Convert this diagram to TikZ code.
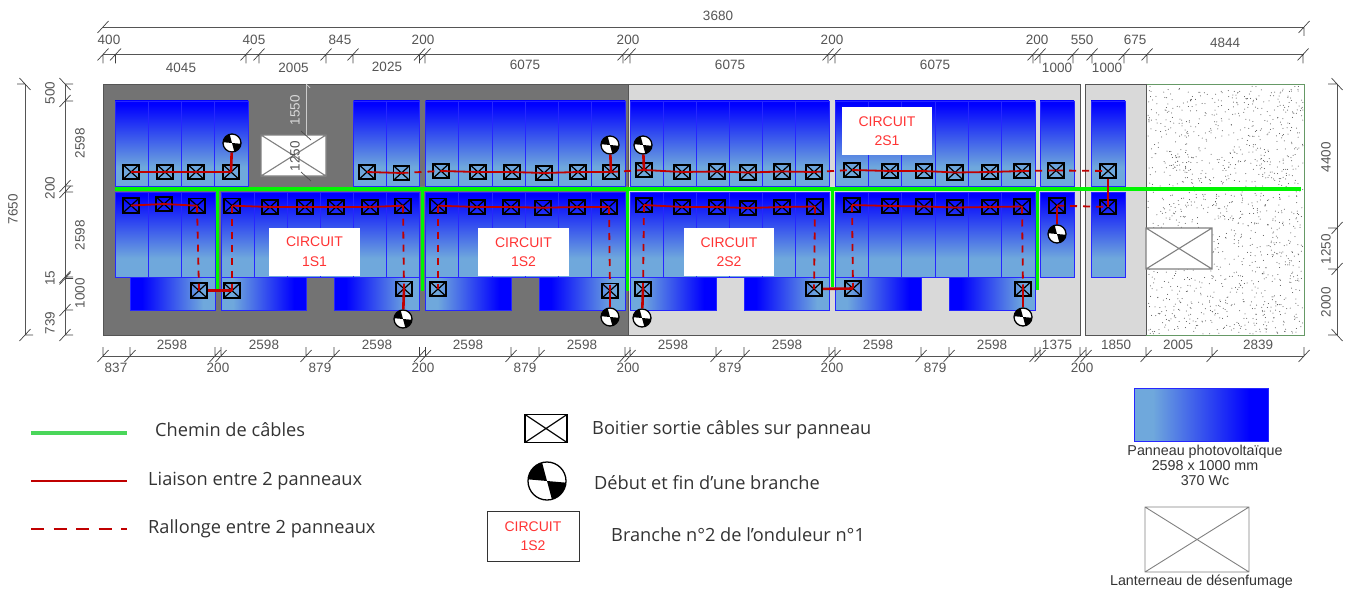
\documentclass[tikz,border=0pt]{standalone}
\usepackage{fontspec}
\setmainfont{Liberation Sans}
\newfontfamily\legende{Open Sans}
\definecolor{bleupv}{RGB}{0,0,255}
\definecolor{bleuclair}{RGB}{111,168,220}
\definecolor{rouge}{RGB}{192,0,0}
\definecolor{rougetxt}{RGB}{255,51,51}
\definecolor{vert}{RGB}{0,245,0}
\definecolor{vertleg}{RGB}{74,214,90}
\definecolor{gristrait}{RGB}{85,85,85}
\pgfdeclareverticalshading{pvV}{100bp}{color(0bp)=(bleuclair); color(36bp)=(bleuclair); color(73bp)=(bleupv); color(100bp)=(bleupv)}
\pgfdeclarehorizontalshading{pvG}{100bp}{color(0bp)=(bleupv); color(32bp)=(bleupv); color(68bp)=(bleuclair); color(100bp)=(bleuclair)}
\pgfdeclarehorizontalshading{pvD}{100bp}{color(0bp)=(bleuclair); color(32bp)=(bleuclair); color(68bp)=(bleupv); color(100bp)=(bleupv)}
\tikzset{
  panneau/.style={draw=blue!85!white, line width=0.7pt},
  panneauV/.style={panneau, shading=pvV},
  panneauG/.style={panneau, shading=pvG},
  panneauD/.style={panneau, shading=pvD},
  boitier/.style={draw=black, line width=1.8pt, minimum width=16pt, minimum height=14.5pt,
    inner sep=0pt, path picture={
      \draw[line width=1.2pt] (path picture bounding box.north west) -- (path picture bounding box.south east)
        (path picture bounding box.north east) -- (path picture bounding box.south west);}},
  debut/.style={circle, draw=black, line width=1.3pt, fill=white, minimum size=#1, inner sep=0pt,
    path picture={
      \fill[black, shift={(path picture bounding box.center)}] (0,0) -- (-105:30) -- (-140:50) -- (-175:30) -- cycle
        (0,0) -- (75:30) -- (40:50) -- (5:30) -- cycle;}},
  debut/.default=18pt,
  chemin/.style={vert, line width=3.2pt},
  liaison/.style={rouge, line width=1.8pt},
  liaisonF/.style={rouge, line width=2.6pt},
  rallonge/.style={rouge, line width=1.8pt, dash pattern=on 7pt off 6pt},
  circuit/.style={fill=white, text=rougetxt, align=center, minimum width=#1, minimum height=48pt,
    inner sep=0pt, font=\fontsize{14}{19.5}\selectfont},
  circuit/.default=91pt,
  cote/.style={gristrait, line width=0.7pt},
  cotetxt/.style={text=gristrait, inner sep=0pt, font=\fontsize{13.5}{15}\selectfont},
  lanterneau/.style={draw=gray, fill=white, line width=1.1pt},
  leg/.style={anchor=west, inner sep=0pt, text=black!80, font=\legende\fontsize{18.2}{20}\selectfont},
  legpetit/.style={inner sep=0pt, text=black!80, align=center, font=\fontsize{14.3}{15}\selectfont},
  pics/coteH/.style={code={\draw[cote, black!75] (-5.5,6) -- (5.5,-6) (0,0) -- (0,#1);}},
  pics/coteV/.style={code={\draw[cote, black!75] (-5.5,6) -- (5.5,-6) (0,0) -- (#1,0);}},
  pics/coteW/.style={code={\draw[cote, black!75] (-5.5,-6) -- (5.5,6) (0,0) -- (#1,0);}},
}
% rangee de panneaux : xa/xb/nombre, puis haut et bas
\newcommand{\rangee}[3]{
  \foreach \xa/\xb/\nb in {#1} {
    \draw[panneauV] (\xa,#2) rectangle (\xb,#3);
    \foreach \i in {1,...,\nb} {
      \pgfmathsetmacro{\xd}{\xa+\i*(\xb-\xa)/\nb}
      \draw[panneau] (\xd,#2) -- (\xd,#3);
    }
  }
}
\begin{document}
\begin{tikzpicture}[x=1pt, y=-1pt]
  \useasboundingbox (0,0) rectangle (1351,591);

  % toiture
  \fill[black!55] (103,84) rectangle (628,335);
  \draw[gristrait, fill=black!15, line width=0.8pt] (628,84) rectangle (1080,335);
  \draw[gristrait, fill=black!15, line width=0.8pt] (1085.5,84) rectangle (1146,335);
  \draw[gristrait, line width=0.8pt] (103,84) rectangle (628,335);
  \pgfmathsetseed{17}
  \foreach \i in {1,...,1300} {
    \pgfmathsetmacro{\xp}{1148+rnd*155}
    \pgfmathsetmacro{\yp}{86+rnd*248}
    \fill[black!70] (\xp,\yp) circle (0.5);
  }
  \draw[green!20!gray, line width=0.7pt] (1146,84) rectangle (1304,335);
  \draw[gristrait, line width=1pt] (1146,84) -- (1146,335);

  % panneaux
  \rangee{115/248/4, 353.5/419.5/2, 425.5/625/6, 630/829/6, 835/1035/6, 1040/1074/1, 1091/1125/1}{101}{186}
  \rangee{115/215/3, 221/419.5/6, 425.5/625/6, 630/829/6, 835/1035/6, 1040/1074/1, 1091/1125/1}{192}{277}
  \foreach \xa/\xb in {130/215, 334/419.5, 539/625, 744/829, 949/1035}
    \draw[panneauG] (\xa,277.5) rectangle (\xb,310.5);
  \foreach \xa/\xb in {221/306, 425.5/511.5, 630/716, 835/921}
    \draw[panneauD] (\xa,277.5) rectangle (\xb,310.5);

  % lanterneaux
  \draw[lanterneau] (261,135) rectangle (326,176) (261,135) -- (326,176) (326,135) -- (261,176);
  \draw[lanterneau] (1146,228) rectangle (1212,269) (1146,228) -- (1212,269) (1212,228) -- (1146,269);
  \draw[black!20, line width=0.7pt] (306,84) -- (306,135);
  \draw[black!20, line width=0.7pt] (306,84) -- ++(4,4);
  \draw[black!70, line width=0.7pt] (301,131) -- (311,140) (301,172) -- (311,181);
  \node[cotetxt, text=black!15, rotate=90] (cote1550) at (295,110) {1550};
  \node[cotetxt, rotate=90] (cote1250) at (295,156) {1250};

  % cotes horizontales
  \draw[cote] (103,27) -- (1304,27);
  \draw[cote] (103,54.5) -- (1304,54.5);
  \draw[cote] (103,356) -- (1304,356);
  \path (103,27) pic {coteH=0} (1304,27) pic {coteH=9};
  \foreach \x in {103,115.5,246,259,326,353,419.5,425,623,630,828,835,1033,1040,1073,1092,1124,1147,1303}
    \path (\x,54.5) pic {coteH=9};
  \foreach \x in {103,130,215,221,306,334,419.5,425.5,511,539,625,630,716,744,829,835,921,949,1035,1040,1080,1086,1146,1212,1304}
    \path (\x,356) pic {coteH=-9};
  \foreach \x/\y/\t [count=\n] in {718/16/3680, 109/40/400, 254/40/405, 340/40/845, 423/40/200, 628/40/200,
    832/40/200, 1037/40/200, 1082/40/550, 1135/40/675, 1225/43/4844, 181/68/4045, 293.5/67.5/2005,
    387/67/2025, 525/65/6075, 730/65/6075, 935/65/6075, 1057/67.5/1000, 1107/68/1000}
    \node[cotetxt] (haut\n) at (\x,\y) {\t};
  \foreach \x/\t [count=\n] in {172/2598, 264/2598, 377/2598, 468/2598, 582/2598, 673/2598, 787/2598, 878/2598,
    992/2598, 1057/1375, 1116/1850, 1178/2005, 1258/2839}
    \node[cotetxt] (bas\n) at (\x,345) {\t};
  \foreach \x/\t [count=\n] in {116/837, 218/200, 320/879, 423/200, 525/879, 628/200, 730/879, 832/200, 935/879, 1082/200}
    \node[cotetxt] (sous\n) at (\x,368) {\t};

  % cotes verticales
  \draw[cote] (25,84) -- (25,335);
  \draw[cote] (65,84) -- (65,335);
  \draw[cote] (1337,84) -- (1337,335);
  \path (25,84) pic {coteW=-8} (25,335) pic {coteV=8};
  \path (65,84) pic {coteW=8};
  \foreach \y in {101,186,192,277,278.5,310,335}
    \path (65,\y) pic {coteV=8};
  \path (1337,84) pic {coteW=-9} (1337,228) pic {coteV=-9} (1337,269) pic {coteV=-9} (1337,335) pic {coteW=-9};
  \foreach \x/\y/\t [count=\n] in {13/209/7650, 50/93/500, 80/143/2598, 50/188/200, 80/235/2598, 50/278/15,
    80/293/1000, 50/323/739, 1326/157/4400, 1326/249/1250, 1326/302/2000}
    \node[cotetxt, rotate=90] (cotev\n) at (\x,\y) {\t};

  % etiquettes des circuits
  \node[circuit] (c1S1) at (314.5,251.5) {CIRCUIT\\1S1};
  \node[circuit] (c1S2) at (523.5,252) {CIRCUIT\\1S2};
  \node[circuit, minimum width=90pt] (c2S2) at (729,252) {CIRCUIT\\2S2};
  \node[circuit, minimum width=90pt] (c2S1) at (887,131) {CIRCUIT\\2S1};

  % chemin de cables
  \coordinate (cheminA) at (115,189);
  \coordinate (cheminB) at (1301,189);
  \foreach \x/\y [count=\n] in {217.5/291, 422.7/291, 627.7/291, 832.7/287, 1037.3/290} {
    \coordinate (cheminh\n) at (\x,189);
    \coordinate (cheminb\n) at (\x,\y);
    \draw[chemin] (cheminh\n) -- (cheminb\n);
  }
  \draw[chemin] (cheminA) -- (cheminB);

  % boitiers
  \foreach \x/\y [count=\n] in {131/172, 165/172, 196/172, 231/172, 367/172, 401.5/173, 441/171, 478/172, 512/172,
    544/173, 578/172, 611/172, 644/170, 682/172, 717/171.5, 748/172.5, 782/171.5, 814/172, 852/170, 890/171,
    924/171, 955/172.5, 990/172, 1022/171, 1056/170.5, 1108/171}
    \node[boitier] (ha\n) at (\x,\y) {};
  \foreach \x/\y [count=\n] in {131/205.5, 164/204, 197/205.7, 232/205.7, 270/207, 305/207, 336/207, 370/207, 403/205.7,
    438/205.7, 477/207, 511/207, 543/207.7, 577/207, 609/207, 644/205, 682/207, 717/207, 748/208, 782/207, 815/206.5,
    852/205, 890/206, 924/206.5, 955/207.5, 990/207, 1022/206.5, 1057/205.6, 1108/207}
    \node[boitier] (mi\n) at (\x,\y) {};
  \foreach \x/\y [count=\n] in {199/290.6, 232/290.6, 404/288.7, 438/289, 610/290.7, 643/289, 814/289, 853/288.5, 1023/289}
    \node[boitier] (ba\n) at (\x,\y) {};

  % debuts de branche
  \foreach \x/\y [count=\n] in {232/143, 610/145, 643/145, 403/319, 610/317, 642/318, 1023/317, 1057/234}
    \node[debut] (db\n) at (\x,\y) {};

  % liaisons
  \draw[liaison] (ha1.center) -- (ha2.center) -- (ha3.center) -- (ha4.center);
  \draw[liaison] (ha5.center) -- (ha6.center);
  \draw[liaison] (ha7.center) -- (ha8.center) -- (ha9.center) -- (ha10.center) -- (ha11.center) -- (ha12.center);
  \draw[liaison] (ha13.center) -- (ha14.center) -- (ha15.center) -- (ha16.center) -- (ha17.center) -- (ha18.center);
  \draw[liaison] (ha19.center) -- (ha20.center) -- (ha21.center) -- (ha22.center) -- (ha23.center) -- (ha24.center);
  \draw[liaison] (mi1.center) -- (mi2.center) -- (mi3.center);
  \draw[liaison] (mi4.center) -- (mi5.center) -- (mi6.center) -- (mi7.center) -- (mi8.center) -- (mi9.center);
  \draw[liaison] (mi10.center) -- (mi11.center) -- (mi12.center) -- (mi13.center) -- (mi14.center) -- (mi15.center);
  \draw[liaison] (mi16.center) -- (mi17.center) -- (mi18.center) -- (mi19.center) -- (mi20.center) -- (mi21.center);
  \draw[liaison] (mi22.center) -- (mi23.center) -- (mi24.center) -- (mi25.center) -- (mi26.center) -- (mi27.center);
  \foreach \a/\b in {db1/ha4, db2/ha12, db3/ha13, db4/ba3, db5/ba5, db6/ba6, db7/ba9, db8/mi28, ba1/ba2, ba7/ba8, ha26/mi29}
    \draw[liaisonF] (\a) -- (\b.center);

  % rallonges
  \foreach \a/\b in {ha6/ha7, ha12/ha13, ha18/ha19, ha24/ha25, ha25/ha26, mi28/mi29, mi3/ba1, mi4/ba2, mi9/ba3,
    mi10/ba4, mi15/ba5, mi16/ba6, mi21/ba7, mi22/ba8, mi27/ba9}
    \draw[rallonge] (\a.center) -- (\b.center);

  % legende
  \coordinate (l1a) at (31,433); \coordinate (l1b) at (127,433);
  \coordinate (l2a) at (31,481); \coordinate (l2b) at (127,481);
  \coordinate (l3a) at (31,529); \coordinate (l3b) at (127,529);
  \draw[vertleg, line width=4.5pt] (l1a) -- (l1b);
  \draw[rouge, line width=2.5pt] (l2a) -- (l2b);
  \draw[rouge, line width=2.5pt, dash pattern=on 13pt off 9.5pt] (l3a) -- (l3b);
  \node[leg] (t1) at (155,430) {Chemin de câbles};
  \node[leg] (t2) at (148,481) {Liaison entre 2 panneaux};
  \node[leg] (t3) at (148,529) {Rallonge entre 2 panneaux};
  \node[boitier, minimum width=42pt, minimum height=28pt] (lb) at (546,428.5) {};
  \node[debut=38pt] (ld) at (547,481) {};
  \node[circuit, draw=black!80, line width=0.8pt, minimum width=92pt, minimum height=50pt] (lc) at (533,536) {CIRCUIT\\1S2};
  \node[leg] (t4) at (592,430) {Boitier sortie câbles sur panneau};
  \node[leg] (t5) at (594,483) {Début et fin d’une branche};
  \node[leg] (t6) at (611,535) {Branche n°2 de l’onduleur n°1};
  \draw[panneauD] (1134,388.5) rectangle (1268,441);
  \node[legpetit] (t7) at (1205,465) {Panneau photovoltaïque\\2598 x 1000 mm\\370 Wc};
  \draw[draw=gray, line width=0.9pt] (1145,507) rectangle (1249,572) (1145,507) -- (1249,572) (1249,507) -- (1145,572);
  \node[legpetit] (t8) at (1201.5,582) {Lanterneau de désenfumage};
\end{tikzpicture}
\end{document}
